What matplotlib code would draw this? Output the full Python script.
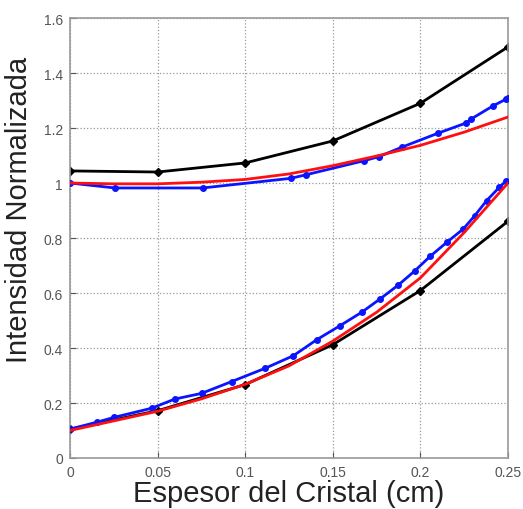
import numpy as np
import matplotlib.pyplot as plt

plt.rcParams['font.family'] = ['Liberation Sans', 'DejaVu Sans']

# upper group (normalized intensity ~1)
x_black = [0, 0.05, 0.1, 0.15, 0.2, 0.25]
up_black = [1.044, 1.04, 1.073, 1.153, 1.29, 1.495]
low_black = [0.105, 0.172, 0.267, 0.412, 0.609, 0.861]

x_up_blue = [0, 0.0257, 0.0757, 0.126, 0.1347, 0.1678, 0.1764, 0.1893,
             0.210, 0.226, 0.229, 0.2416, 0.2489, 0.25]
up_blue = [1.0, 0.982, 0.982, 1.017, 1.03, 1.081, 1.096, 1.13,
           1.181, 1.218, 1.233, 1.281, 1.305, 1.31]

x_low_blue = [0, 0.0152, 0.0253, 0.0466, 0.0599, 0.0751, 0.0923, 0.1113,
              0.1275, 0.1408, 0.1541, 0.1665, 0.1769, 0.1874, 0.1969,
              0.2055, 0.215, 0.2245, 0.231, 0.2378, 0.245, 0.249]
low_blue = [0.105, 0.130, 0.148, 0.181, 0.2145, 0.235, 0.278, 0.326,
            0.372, 0.430, 0.481, 0.530, 0.578, 0.629, 0.681,
            0.733, 0.784, 0.833, 0.881, 0.936, 0.984, 1.008]

x_red = [0, 0.025, 0.05, 0.075, 0.1, 0.125, 0.15, 0.175, 0.2, 0.225, 0.25]
up_red = [1.0, 0.997, 0.997, 1.003, 1.013, 1.033, 1.063, 1.098, 1.137, 1.185, 1.24]
low_red = [0.1, 0.135, 0.17, 0.215, 0.268, 0.335, 0.425, 0.53, 0.655, 0.82, 1.0]

xticks = [0, 0.05, 0.1, 0.15, 0.2, 0.25]
xticklabels = ['0', '0.05', '0.1', '0.15', '0.2', '0.25']
yticks = [0, 0.2, 0.4, 0.6, 0.8, 1.0, 1.2, 1.4, 1.6]
yticklabels = ['0', '0.2', '0.4', '0.6', '0.8', '1', '1.2', '1.4', '1.6']

fig = plt.figure(figsize=(5.23, 5.10), dpi=100)
ax = fig.add_axes([0.1338, 0.1, 0.8375, 0.8627])

for xb, yb in [(x_up_blue, up_blue), (x_low_blue, low_blue)]:
    ax.plot(xb, yb, color='#0a14ff', lw=2, marker='o', ms=4, zorder=3)
for yr in [up_red, low_red]:
    ax.plot(x_red, yr, color='#ff1010', lw=2, zorder=4)
for yk in [up_black, low_black]:
    ax.plot(x_black, yk, color='black', lw=2, marker='D', ms=4.5, zorder=2)

ax.set_xlim(0, 0.25)
ax.set_ylim(0, 1.6)
ax.set_xticks(xticks)
ax.set_xticklabels(xticklabels)
ax.set_yticks(yticks)
ax.set_yticklabels(yticklabels)
ax.grid(True, color='#999999', linestyle=':', lw=0.9)
ax.tick_params(direction='in', labelsize=10, colors='#555555', length=4, pad=5)
for s in ax.spines.values():
    s.set_color('#999999')
    s.set_linewidth(1.2)

ax.set_xlabel('Espesor del Cristal (cm)', fontsize=21, color='#222222', labelpad=0)
ax.set_ylabel('Intensidad Normalizada', fontsize=21, color='#222222')
ax.yaxis.set_label_coords(-0.085, 0.566)

fig.savefig('out.png', dpi=100)
